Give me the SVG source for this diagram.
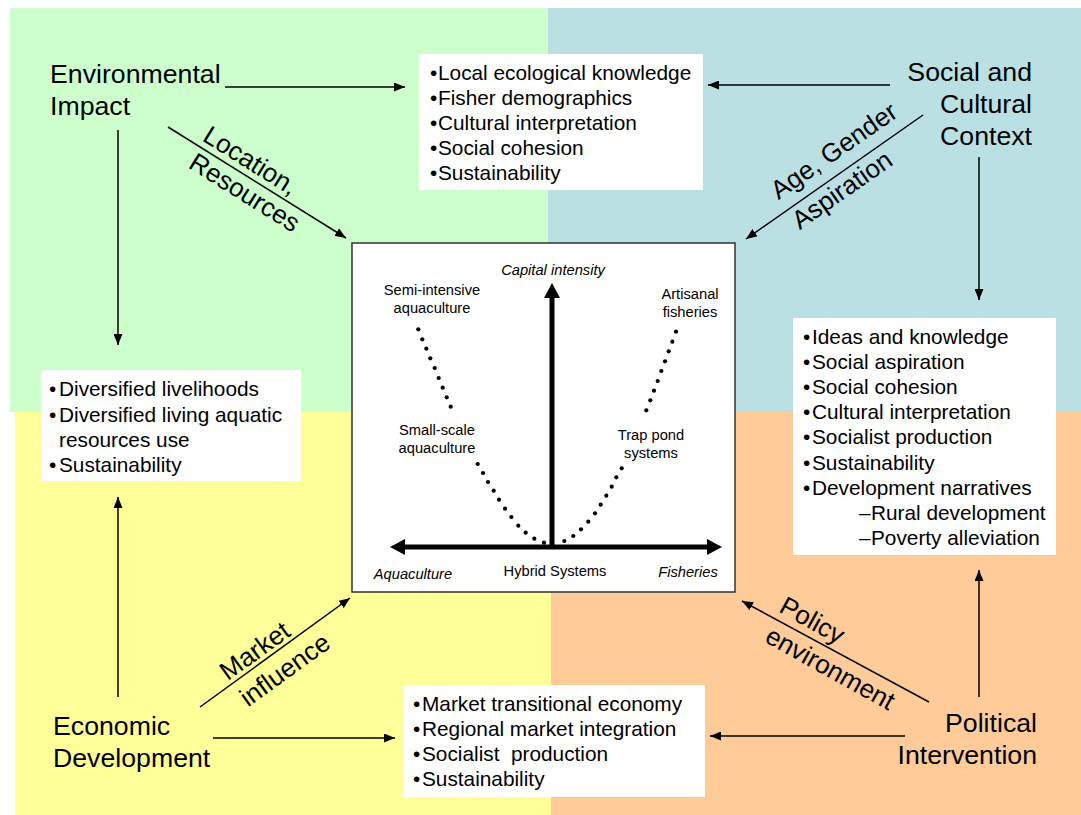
<svg xmlns="http://www.w3.org/2000/svg" width="1081" height="815" viewBox="0 0 1081 815">
  <defs>
    <marker id="ah" markerUnits="userSpaceOnUse" markerWidth="11" markerHeight="9" refX="11" refY="4.5" orient="auto">
      <path d="M0,0 L11,4.5 L0,9 z" fill="#000"/>
    </marker>
    <style>
      .big { font-family: "Liberation Sans", Arial, sans-serif; font-size: 26.7px; fill: #000; }
      .box { fill: #fff; }
      .bt { font-family: "Liberation Sans", Arial, sans-serif; font-size: 20.8px; fill: #000; }
      .ct { font-family: "Liberation Sans", Arial, sans-serif; font-size: 14.7px; fill: #000; text-anchor: middle; }
      .it { font-style: italic; }
      .lbl { font-family: "Liberation Sans", Arial, sans-serif; font-size: 26px; fill: #000; text-anchor: middle; }
      .conn { stroke: #000; stroke-width: 1.5; fill: none; marker-end: url(#ah); }
      .dot { fill: #000; }
    </style>
  </defs>
  <rect width="1081" height="815" fill="#fff"/>
  <g id="background">
    <rect x="10" y="8" width="538" height="404" fill="#CCFFCC"/>
    <rect x="548" y="8" width="533" height="404" fill="#BBE0E3"/>
    <rect x="15" y="412" width="536" height="403" fill="#FFFF99"/>
    <rect x="551" y="412" width="530" height="403" fill="#FFCC99"/>
  </g>

  <g id="environmental-impact">
    <text class="big" x="50" y="83">Environmental</text>
    <text class="big" x="50" y="115">Impact</text>
  </g>
  <g id="social-cultural-context">
    <text class="big" x="1032" y="81" text-anchor="end">Social and</text>
    <text class="big" x="1032" y="113" text-anchor="end">Cultural</text>
    <text class="big" x="1032" y="145" text-anchor="end">Context</text>
  </g>
  <g id="economic-development">
    <text class="big" x="53" y="735">Economic</text>
    <text class="big" x="53" y="767">Development</text>
  </g>
  <g id="political-intervention">
    <text class="big" x="1037" y="732" text-anchor="end">Political</text>
    <text class="big" x="1037" y="764" text-anchor="end">Intervention</text>
  </g>

  <g id="box-top">
    <rect class="box" x="419" y="54" width="284" height="136"/>
    <text class="bt" x="430" y="80">•<tspan x="438">Local ecological knowledge</tspan></text>
    <text class="bt" x="430" y="105">•<tspan x="438">Fisher demographics</tspan></text>
    <text class="bt" x="430" y="130">•<tspan x="438">Cultural interpretation</tspan></text>
    <text class="bt" x="430" y="155">•<tspan x="438">Social cohesion</tspan></text>
    <text class="bt" x="430" y="180">•<tspan x="438">Sustainability</tspan></text>
  </g>
  <g id="box-left">
    <rect class="box" x="41" y="370" width="260" height="111"/>
    <text class="bt" x="49" y="396">•<tspan x="59">Diversified livelihoods</tspan></text>
    <text class="bt" x="49" y="422">•<tspan x="59">Diversified living aquatic</tspan></text>
    <text class="bt" x="59" y="447">resources use</text>
    <text class="bt" x="49" y="472">•<tspan x="59">Sustainability</tspan></text>
  </g>
  <g id="box-right">
    <rect class="box" x="793" y="318" width="263" height="237"/>
    <text class="bt" x="803" y="344">•<tspan x="812">Ideas and knowledge</tspan></text>
    <text class="bt" x="803" y="369">•<tspan x="812">Social aspiration</tspan></text>
    <text class="bt" x="803" y="394">•<tspan x="812">Social cohesion</tspan></text>
    <text class="bt" x="803" y="419">•<tspan x="812">Cultural interpretation</tspan></text>
    <text class="bt" x="803" y="444">•<tspan x="812">Socialist production</tspan></text>
    <text class="bt" x="803" y="470">•<tspan x="812">Sustainability</tspan></text>
    <text class="bt" x="803" y="495">•<tspan x="812">Development narratives</tspan></text>
    <text class="bt" x="859" y="520">–<tspan x="871">Rural development</tspan></text>
    <text class="bt" x="859" y="545">–<tspan x="871">Poverty alleviation</tspan></text>
  </g>
  <g id="box-bottom">
    <rect class="box" x="403" y="685" width="302" height="112"/>
    <text class="bt" x="413" y="711">•<tspan x="422">Market transitional economy</tspan></text>
    <text class="bt" x="413" y="736">•<tspan x="422">Regional market integration</tspan></text>
    <text class="bt" x="413" y="761" xml:space="preserve">•<tspan x="422">Socialist  production</tspan></text>
    <text class="bt" x="413" y="786">•<tspan x="422">Sustainability</tspan></text>
  </g>

  <g id="center-chart">
    <rect x="352" y="243" width="383" height="349" fill="#fff" stroke="#333" stroke-width="1.5"/>
    <line x1="403" y1="547" x2="709" y2="547" stroke="#000" stroke-width="5"/>
    <polygon points="390,547 405,539 405,555" fill="#000"/>
    <polygon points="722,547 707,539 707,555" fill="#000"/>
    <line x1="552" y1="296" x2="552" y2="547" stroke="#000" stroke-width="5"/>
    <polygon points="552,283 544,298 560,298" fill="#000"/>
    <g id="dots">
      <circle class="dot" cx="418.3" cy="329.3" r="2.1"/>
      <circle class="dot" cx="422.3" cy="339.3" r="2.1"/>
      <circle class="dot" cx="426.3" cy="348.7" r="2.1"/>
      <circle class="dot" cx="430.3" cy="358.3" r="2.1"/>
      <circle class="dot" cx="434.7" cy="368" r="2.1"/>
      <circle class="dot" cx="438.7" cy="378" r="2.1"/>
      <circle class="dot" cx="442.7" cy="387.7" r="2.1"/>
      <circle class="dot" cx="446.7" cy="397.3" r="2.1"/>
      <circle class="dot" cx="450.7" cy="406.7" r="2.1"/>
      <circle class="dot" cx="477.7" cy="464" r="2.1"/>
      <circle class="dot" cx="483" cy="473" r="2.1"/>
      <circle class="dot" cx="488" cy="482" r="2.1"/>
      <circle class="dot" cx="493.7" cy="490.7" r="2.1"/>
      <circle class="dot" cx="499" cy="499.7" r="2.1"/>
      <circle class="dot" cx="505" cy="508.7" r="2.1"/>
      <circle class="dot" cx="511.3" cy="517" r="2.1"/>
      <circle class="dot" cx="518.3" cy="525.7" r="2.1"/>
      <circle class="dot" cx="525.7" cy="532.7" r="2.1"/>
      <circle class="dot" cx="534.3" cy="538.7" r="2.1"/>
      <circle class="dot" cx="544" cy="542.7" r="2.1"/>
      <circle class="dot" cx="564.3" cy="541" r="2.1"/>
      <circle class="dot" cx="573.3" cy="536" r="2.1"/>
      <circle class="dot" cx="581" cy="529.3" r="2.1"/>
      <circle class="dot" cx="588.3" cy="521.7" r="2.1"/>
      <circle class="dot" cx="595" cy="513.3" r="2.1"/>
      <circle class="dot" cx="600.7" cy="504.7" r="2.1"/>
      <circle class="dot" cx="606.3" cy="495.7" r="2.1"/>
      <circle class="dot" cx="611.7" cy="486.7" r="2.1"/>
      <circle class="dot" cx="616.3" cy="477.3" r="2.1"/>
      <circle class="dot" cx="621.7" cy="468.3" r="2.1"/>
      <circle class="dot" cx="646.3" cy="410.3" r="2.1"/>
      <circle class="dot" cx="650.3" cy="400.3" r="2.1"/>
      <circle class="dot" cx="654" cy="390.7" r="2.1"/>
      <circle class="dot" cx="657.7" cy="381" r="2.1"/>
      <circle class="dot" cx="661.3" cy="371" r="2.1"/>
      <circle class="dot" cx="665" cy="361.3" r="2.1"/>
      <circle class="dot" cx="668.7" cy="351.3" r="2.1"/>
      <circle class="dot" cx="672.3" cy="341.7" r="2.1"/>
      <circle class="dot" cx="676" cy="331.7" r="2.1"/>
    </g>
    <text class="ct it" x="553" y="275">Capital intensity</text>
    <text class="ct" x="432" y="295">Semi-intensive</text>
    <text class="ct" x="432" y="313">aquaculture</text>
    <text class="ct" x="690" y="299">Artisanal</text>
    <text class="ct" x="690" y="317">fisheries</text>
    <text class="ct" x="437" y="435">Small-scale</text>
    <text class="ct" x="437" y="453">aquaculture</text>
    <text class="ct" x="651" y="440">Trap pond</text>
    <text class="ct" x="651" y="458">systems</text>
    <text class="ct it" x="413" y="579">Aquaculture</text>
    <text class="ct" x="555" y="576">Hybrid Systems</text>
    <text class="ct it" x="688" y="577">Fisheries</text>
  </g>

  <g id="connectors">
    <line class="conn" x1="225" y1="87" x2="405" y2="87"/>
    <line class="conn" x1="890" y1="85" x2="708" y2="85"/>
    <line class="conn" x1="118" y1="130" x2="118" y2="345"/>
    <line class="conn" x1="979" y1="157" x2="979" y2="300"/>
    <line class="conn" x1="118" y1="697" x2="118" y2="497"/>
    <line class="conn" x1="979" y1="697" x2="979" y2="570"/>
    <line class="conn" x1="213" y1="738" x2="395" y2="738"/>
    <line class="conn" x1="905" y1="736" x2="710" y2="736"/>
    <line class="conn" x1="168" y1="127" x2="346" y2="238"/>
    <line class="conn" x1="923" y1="115" x2="746" y2="239"/>
    <line class="conn" x1="200" y1="707" x2="350" y2="598"/>
    <line class="conn" x1="929" y1="702" x2="742" y2="601"/>
    <text class="lbl" transform="translate(246,168) rotate(32)">Location,</text>
    <text class="lbl" transform="translate(240,200) rotate(32)">Resources</text>
    <text class="lbl" transform="translate(839,158) rotate(-35)">Age, Gender</text>
    <text class="lbl" transform="translate(847,197) rotate(-35)">Aspiration</text>
    <text class="lbl" transform="translate(260,658) rotate(-36)">Market</text>
    <text class="lbl" transform="translate(290,677) rotate(-36)">influence</text>
    <text class="lbl" transform="translate(808,628) rotate(29)">Policy</text>
    <text class="lbl" transform="translate(826,676) rotate(29)">environment</text>
  </g>
</svg>
